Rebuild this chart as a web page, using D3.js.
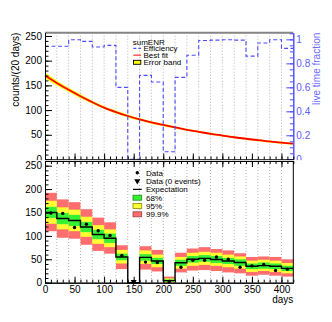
<!DOCTYPE html>
<html>
<head>
<meta charset="utf-8">
<script src="https://cdn.jsdelivr.net/npm/d3@7"></script>
<style>
body{margin:0;background:#fff}
svg{display:block;font-family:"Liberation Sans",Arial,sans-serif}
</style>
</head>
<body>
<svg id="chart" width="332" height="322"></svg>
<script>
// bins of 20 days
var binStart = [0,20,40,60,80,100,120,140,160,180,200,220,240,260,280,300,320,340,360,380,400];
var binWidth = 20;
var liveFraction = [0.942,0.942,0.997,0.983,0.936,0.95,0.6,0,0.7,0.644,0.063,0.683,0.867,0.99,0.994,0.997,0.994,0.86,0.97,0.997,0.925];

// best fit rate (counts / 20 days) and its error band
var fitDays = [0,20,40,60,80,100,120,140,160,180,200,220,240,260,280,300,320,340,360,380,400,420];
var fitBest = [170,155,141,128,116,105,96,88,81,75,70,65,60,56,52,48.5,45,42,39,36.5,34,32];
var fitLow  = [164,150,137,124,113,102,93,85,78.5,72.5,67.5,62.5,58,54,50,46.5,43,40,37,34.5,32,30];
var fitHigh = [176,160,145,132,119,108,99,91,83.5,77.5,72.5,67.5,62,58,54,50.5,47,44,41,38.5,36,34];

// lower panel
var expected = [150,137,133,119,103,95,55,0,54,46.5,4.5,42.5,50,52,49.5,46.5,43,35,36.5,35,30.5];
var observed = [149,148,118,125,111,101,58,0,44,43,2,33,48,48,55,50,33,36,39,26,29];
var lo68  = [138,125,121,108,93,85,48,0,47,40,2,36,43,45,42,40,36,29,30,29,25];
var hi68  = [162,149,145,130,113,105,62,0,61,53,7,49,57,59,57,53,50,41,43,41,36];
var lo95  = [126,114,110,98,83,76,41,0,40,33,1,30,36,38,36,33,30,23,25,23,20];
var hi95  = [175,161,156,141,123,114,70,0,69,60,9,55,64,66,64,60,56,47,49,47,42];
var lo999 = [110,96,94,81,68,62,29,0,28,24,0,22,26,27,25,22,20,15,17,15,13];
var hi999 = [192,178,172,157,139,129,80,0,78,70,13,64,73,76,72,69,63,55,56,55,50];

var countTicks = [0,50,100,150,200,250];
var fracTicks = [0,0.2,0.4,0.6,0.8,1];
var dayTicks = [0,50,100,150,200,250,300,350,400];

var FONT = '"Liberation Sans",Arial,sans-serif';
var BLUE = '#4d4dff';

var svg = d3.select('#chart');
svg.append('rect').attr('width',332).attr('height',322).attr('fill','#fff');

var x = d3.scaleLinear().domain([0,420]).range([45,293.3]);
var yTop = d3.scaleLinear().domain([0,256.6]).range([159.5,32.7]);
var yEff = d3.scaleLinear().domain([0,1.0555]).range([159.3,32.7]);
var yBot = d3.scaleLinear().domain([0,260]).range([282.7,161]);

var binEdges = binStart.concat([binStart[binStart.length-1]+binWidth]);

function styleAxis(g, color, size){
  g.attr('font-family', FONT).attr('font-size', size || 10);
  g.selectAll('line').attr('stroke', color);
  g.selectAll('path').attr('stroke', color);
  g.selectAll('text').attr('fill', color);
}

function grid(yScale){
  svg.append('g').selectAll('line').data(binEdges.slice(1,-1)).enter().append('line')
    .attr('x1', function(d){return x(d)}).attr('x2', function(d){return x(d)})
    .attr('y1', yScale.range()[1]).attr('y2', yScale.range()[0])
    .attr('stroke','#b4b4b4').attr('stroke-width',1).attr('stroke-dasharray','1,2');
}

//---------------- top panel
grid(yTop);

var bandArea = d3.area()
  .x(function(d,i){return x(fitDays[i])})
  .y0(function(d,i){return yTop(fitLow[i])})
  .y1(function(d,i){return yTop(fitHigh[i])})
  .curve(d3.curveMonotoneX);
svg.append('path').datum(fitBest).attr('d', bandArea).attr('fill','#ffff00');

var fitLine = d3.line()
  .x(function(d,i){return x(fitDays[i])})
  .y(function(d){return yTop(d)})
  .curve(d3.curveMonotoneX);
svg.append('path').datum(fitBest).attr('d', fitLine)
  .attr('fill','none').attr('stroke','#ff0000').attr('stroke-width',1.8);

var effPts = binStart.map(function(d,i){return [d, liveFraction[i]]});
effPts.push([binEdges[binEdges.length-1], liveFraction[liveFraction.length-1]]);
var effLine = d3.line()
  .x(function(d){return x(d[0])})
  .y(function(d){return yEff(d[1])})
  .curve(d3.curveStepAfter);
svg.append('path').datum(effPts).attr('d', effLine)
  .attr('fill','none').attr('stroke',BLUE).attr('stroke-width',1.1).attr('stroke-dasharray','4,2.5');

// top frame
svg.append('line').attr('x1',x(0)).attr('x2',x(420)).attr('y1',32.7).attr('y2',32.7)
  .attr('stroke','#858585').attr('stroke-width',2);

var minorCounts = d3.range(0,257,10);
var gL = svg.append('g').attr('transform','translate('+x(0)+',0)')
  .call(d3.axisLeft(yTop).tickValues(countTicks).tickSize(-7).tickSizeOuter(0).tickPadding(3));
styleAxis(gL,'#000');
var gLm = svg.append('g').attr('transform','translate('+x(0)+',0)')
  .call(d3.axisLeft(yTop).tickValues(minorCounts).tickSize(-3.5).tickSizeOuter(0).tickFormat(''));
styleAxis(gLm,'#000');

var gR = svg.append('g').attr('transform','translate('+x(420)+',0)')
  .call(d3.axisRight(yEff).tickValues(fracTicks).tickSize(-7).tickSizeOuter(0).tickPadding(3).tickFormat(d3.format('~g')));
styleAxis(gR,BLUE);
gR.selectAll('text').attr('fill','#5c5cff');
var gRm = svg.append('g').attr('transform','translate('+x(420)+',0)')
  .call(d3.axisRight(yEff).tickValues(d3.range(0,1.06,0.05)).tickSize(-3.5).tickSizeOuter(0).tickFormat(''));
styleAxis(gRm,BLUE);

var gB1 = svg.append('g').attr('transform','translate(0,159.5)')
  .call(d3.axisBottom(x).tickValues(dayTicks).tickSize(-6).tickSizeOuter(0).tickFormat(''));
styleAxis(gB1,'#000');
var gB1m = svg.append('g').attr('transform','translate(0,159.5)')
  .call(d3.axisBottom(x).tickValues(d3.range(0,421,10)).tickSize(-3).tickSizeOuter(0).tickFormat(''));
styleAxis(gB1m,'#000');

svg.append('text').attr('transform','translate(15,32.7) rotate(-90)')
  .attr('text-anchor','end').attr('dy','0.35em').attr('font-size',10).attr('font-family',FONT)
  .text('counts/(20 days)');
svg.append('text').attr('transform','translate(316.7,32.7) rotate(-90)')
  .attr('text-anchor','end').attr('dy','0.35em').attr('font-size',10).attr('font-family',FONT)
  .attr('fill','#6b6bff').text('live time fraction');

// top legend
var lg1 = svg.append('g').attr('font-family',FONT).attr('font-size',8);
lg1.append('text').attr('x',132.7).attr('y',41.7).attr('dy','0.35em').text('sumENR');
lg1.append('line').attr('x1',133.3).attr('x2',141).attr('y1',48.4).attr('y2',48.4)
  .attr('stroke',BLUE).attr('stroke-width',1.1).attr('stroke-dasharray','3,2');
lg1.append('line').attr('x1',133.3).attr('x2',141).attr('y1',55.2).attr('y2',55.2)
  .attr('stroke','#ff4040').attr('stroke-width',1.3);
lg1.append('rect').attr('x',133.5).attr('y',60.3).attr('width',7.3).attr('height',4)
  .attr('fill','#ffff00').attr('stroke','#000').attr('stroke-width',0.9);
lg1.selectAll('text.e').data(['Efficiency','Best fit','Error band']).enter().append('text')
  .attr('x',143.5).attr('y',function(d,i){return 48.4+i*6.9}).attr('dy','0.35em').text(function(d){return d});

//---------------- bottom pad
svg.append('rect').attr('x',0).attr('y',160.2).attr('width',332).attr('height',162).attr('fill','#fff');
grid(yBot);

var bandSets = [[lo999,hi999,'#ff6e6e'],[lo95,hi95,'#ffff33'],[lo68,hi68,'#36f036']];
bandSets.forEach(function(b){
  svg.append('g').selectAll('rect').data(binStart).enter().append('rect')
    .attr('x', function(d){return x(d)})
    .attr('width', function(d){return x(d+binWidth)-x(d)})
    .attr('y', function(d,i){return yBot(b[1][i])})
    .attr('height', function(d,i){return yBot(b[0][i])-yBot(b[1][i])})
    .attr('fill', b[2]);
});

var expPts = binStart.map(function(d,i){return [d, expected[i]]});
expPts.push([binEdges[binEdges.length-1], expected[expected.length-1]]);
svg.append('path').datum(expPts)
  .attr('d', d3.line().x(function(d){return x(d[0])}).y(function(d){return yBot(d[1])}).curve(d3.curveStepAfter))
  .attr('fill','none').attr('stroke','#000').attr('stroke-width',1.4);

svg.append('g').selectAll('circle').data(binStart.filter(function(d,i){return observed[i]>0}))
  .enter().append('circle')
  .attr('cx', function(d){return x(d+binWidth/2)})
  .attr('cy', function(d){return yBot(observed[binStart.indexOf(d)])})
  .attr('r',1.7).attr('fill','#000');
var tri = d3.symbol().type(d3.symbolTriangle).size(16);
svg.append('g').selectAll('path').data(binStart.filter(function(d,i){return observed[i]===0}))
  .enter().append('path')
  .attr('d', tri)
  .attr('transform', function(d){return 'translate('+x(d+binWidth/2)+','+(yBot(0)-1)+') rotate(180)'})
  .attr('fill','#000');

var gL2 = svg.append('g').attr('transform','translate('+x(0)+',0)')
  .call(d3.axisLeft(yBot).tickValues(countTicks).tickSize(-7).tickSizeOuter(0).tickPadding(3));
styleAxis(gL2,'#000');
var gL2m = svg.append('g').attr('transform','translate('+x(0)+',0)')
  .call(d3.axisLeft(yBot).tickValues(d3.range(0,261,10)).tickSize(-3.5).tickSizeOuter(0).tickFormat(''));
styleAxis(gL2m,'#000');

var gB2 = svg.append('g').attr('transform','translate(0,'+yBot(0)+')')
  .call(d3.axisBottom(x).tickValues(dayTicks).tickSize(-6).tickSizeOuter(0).tickPadding(3));
styleAxis(gB2,'#000');
var gB2m = svg.append('g').attr('transform','translate(0,'+yBot(0)+')')
  .call(d3.axisBottom(x).tickValues(d3.range(0,421,10)).tickSize(-3).tickSizeOuter(0).tickFormat(''));
styleAxis(gB2m,'#000');

var gT2 = svg.append('g').attr('transform','translate(0,161)')
  .call(d3.axisTop(x).tickValues(dayTicks).tickSize(-6).tickSizeOuter(0).tickFormat(''));
styleAxis(gT2,'#000');
var gT2m = svg.append('g').attr('transform','translate(0,161)')
  .call(d3.axisTop(x).tickValues(d3.range(0,421,10)).tickSize(-3).tickSizeOuter(0).tickFormat(''));
styleAxis(gT2m,'#000');
svg.append('line').attr('x1',x(420)).attr('x2',x(420)).attr('y1',161).attr('y2',yBot(0)).attr('stroke','#000');

svg.append('text').attr('x',x(420)).attr('y',303).attr('text-anchor','end')
  .attr('font-size',10).attr('font-family',FONT).text('days');

// bottom legend
var lg2 = svg.append('g').attr('font-family',FONT).attr('font-size',8);
var rowY = function(i){return 172.8+i*8.3};
lg2.append('circle').attr('cx',137.3).attr('cy',rowY(0)).attr('r',1.7).attr('fill','#000');
lg2.append('path').attr('d',tri).attr('transform','translate(137.3,'+rowY(1)+') rotate(180)').attr('fill','#000');
lg2.append('line').attr('x1',133).attr('x2',141.7).attr('y1',rowY(2)).attr('y2',rowY(2)).attr('stroke','#000').attr('stroke-width',1.2);
[['#36f036','#1a8a1a'],['#ffff33','#8a8a00'],['#ff6e6e','#a03a3a']].forEach(function(c,i){
  lg2.append('rect').attr('x',133).attr('y',rowY(3+i)-2.5).attr('width',8.7).attr('height',5)
    .attr('fill',c[0]).attr('stroke',c[1]).attr('stroke-width',0.8);
});
lg2.selectAll('text').data(['Data','Data (0 events)','Expectation','68%','95%','99.9%']).enter().append('text')
  .attr('x',146).attr('y',function(d,i){return rowY(i)}).attr('dy','0.35em').text(function(d){return d});
</script>
</body>
</html>
